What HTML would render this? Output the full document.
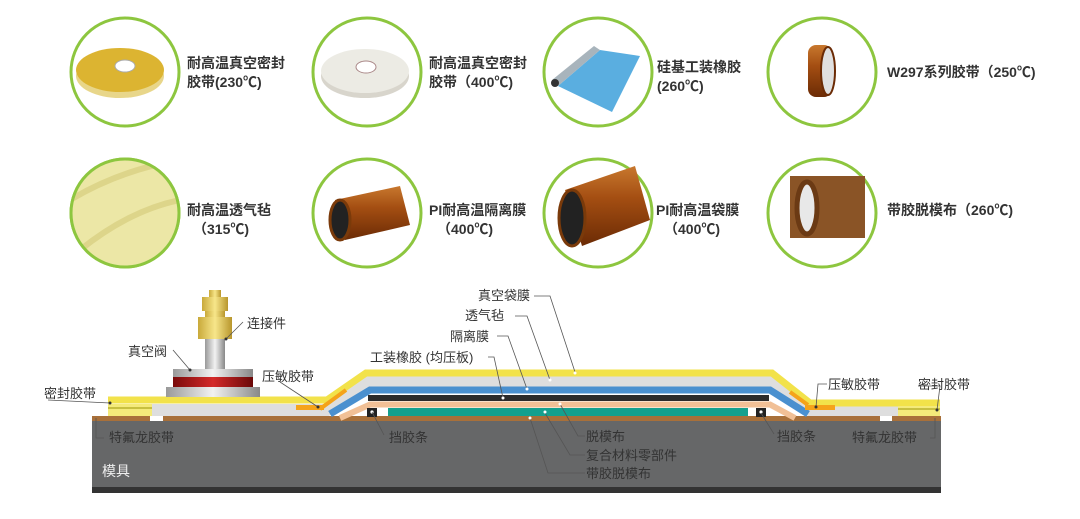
<!DOCTYPE html>
<html><head><meta charset="utf-8"><style>
html,body{margin:0;padding:0;background:#fff;}
svg{display:block}
.t{font-family:"Liberation Sans","Noto Sans CJK SC",sans-serif;font-weight:bold;font-size:14px;fill:#333}
.l{font-family:"Liberation Sans","Noto Sans CJK SC",sans-serif;font-size:13px;fill:#333}
.ld{fill:none;stroke:#555;stroke-width:0.8}
</style></head><body>
<svg width="1080" height="519" viewBox="0 0 1080 519" xmlns="http://www.w3.org/2000/svg">
<defs>
<clipPath id="c5"><circle cx="125" cy="213" r="53"/></clipPath>
<linearGradient id="cu" x1="0" y1="0" x2="0" y2="1"><stop offset="0" stop-color="#c8782e"/><stop offset=".4" stop-color="#a44e12"/><stop offset="1" stop-color="#6b2b05"/></linearGradient>
<linearGradient id="sil" x1="0" y1="0" x2="1" y2="0"><stop offset="0" stop-color="#999"/><stop offset=".5" stop-color="#f2f2f2"/><stop offset="1" stop-color="#888"/></linearGradient>
<linearGradient id="gold" x1="0" y1="0" x2="1" y2="0"><stop offset="0" stop-color="#c9a93a"/><stop offset=".5" stop-color="#f7e68a"/><stop offset="1" stop-color="#b8962c"/></linearGradient>
<linearGradient id="red" x1="0" y1="0" x2="1" y2="0"><stop offset="0" stop-color="#7a0a0a"/><stop offset=".5" stop-color="#d42a2a"/><stop offset="1" stop-color="#6a0808"/></linearGradient>
</defs>

<g fill="#fff" stroke="#8dc63f" stroke-width="3">
<circle cx="125" cy="72" r="54"/><circle cx="367" cy="72" r="54"/><circle cx="598" cy="72" r="54"/><circle cx="822" cy="72" r="54"/>
<circle cx="125" cy="213" r="54"/><circle cx="367" cy="213" r="54"/><circle cx="598" cy="213" r="54"/><circle cx="822" cy="213" r="54"/>
</g>
<ellipse cx="120" cy="76" rx="44" ry="22" fill="#e8d68a"/>
<ellipse cx="120" cy="70" rx="44" ry="22" fill="#dcb431"/>
<ellipse cx="125" cy="66" rx="10" ry="6" fill="#fff" stroke="#aaa"/>
<ellipse cx="365" cy="76" rx="44" ry="22" fill="#d8d5cc"/>
<ellipse cx="365" cy="71" rx="44" ry="22" fill="#ecebe4"/>
<ellipse cx="366" cy="67" rx="10" ry="6" fill="#fff" stroke="#a88"/>
<polygon points="558,86 600,50 640,56 612,112" fill="#5aaee0"/>
<polygon points="552,80 594,46 600,50 558,86" fill="#a8b4bc"/>
<ellipse cx="555" cy="83" rx="4" ry="4" fill="#333"/>
<rect x="808" y="45" width="24" height="52" rx="8" fill="url(#cu)"/>
<ellipse cx="828" cy="71" rx="7" ry="24" fill="#e0e0e0" stroke="#6b2b05" stroke-width="2"/>
<g clip-path="url(#c5)"><rect x="70" y="158" width="110" height="110" fill="#ece7a6"/><path d="M70,200 Q120,170 180,160 M80,250 Q130,210 180,200" stroke="#ddd58a" stroke-width="6" fill="none"/></g>
<circle cx="125" cy="213" r="54" fill="none" stroke="#8dc63f" stroke-width="3"/>
<polygon points="335,200 400,186 410,225 345,240" fill="url(#cu)"/>
<ellipse cx="340" cy="220" rx="10" ry="20" fill="#222" stroke="#7a3a0a" stroke-width="3"/>
<polygon points="565,190 635,166 650,220 582,246" fill="url(#cu)"/>
<ellipse cx="572" cy="218" rx="13" ry="28" fill="#222" stroke="#7a3a0a" stroke-width="3"/>
<rect x="790" y="176" width="75" height="62" fill="#8a5426"/>
<ellipse cx="807" cy="208" rx="10" ry="26" fill="#e8e8e8" stroke="#6b3a14" stroke-width="5"/>

<g class="t">
<text x="187" y="68">耐高温真空密封</text><text x="187" y="87">胶带(230℃)</text>
<text x="429" y="68">耐高温真空密封</text><text x="429" y="87">胶带（400℃)</text>
<text x="657" y="72">硅基工装橡胶</text><text x="657" y="91">(260℃)</text>
<text x="887" y="77">W297系列胶带（250℃)</text>
<text x="187" y="215">耐高温透气毡</text><text x="193" y="234">（315℃)</text>
<text x="429" y="215">PI耐高温隔离膜</text><text x="437" y="234">（400℃)</text>
<text x="656" y="215">PI耐高温袋膜</text><text x="664" y="234">（400℃)</text>
<text x="887" y="215">带胶脱模布（260℃)</text>
</g>

<rect x="92" y="416" width="849" height="6" fill="#a8703a"/>
<rect x="92" y="421" width="849" height="67" fill="#666768"/>
<rect x="92" y="487" width="849" height="6" fill="#333"/>
<rect x="150" y="413" width="13" height="8" fill="#fff"/>
<rect x="880" y="413" width="12" height="8" fill="#fff"/>

<polyline points="150,410 327,410 366,382 772,382 810,410 898,410" fill="none" stroke="#dedede" stroke-width="12"/>
<polyline points="330,414 370,390 770,390 808,414" fill="none" stroke="#4a90cf" stroke-width="7" stroke-linejoin="miter"/>
<rect x="368" y="395" width="401" height="6" fill="#2b2b2b"/>
<polyline points="340,418 370,404.5 770,404.5 795,418" fill="none" stroke="#f1c096" stroke-width="6"/>
<rect x="388" y="408" width="360" height="8" fill="#14a08e"/>
<rect x="367" y="408" width="10" height="9" fill="#222"/><circle cx="372" cy="412" r="1.6" fill="#fff"/>
<rect x="756" y="408" width="10" height="9" fill="#222"/><circle cx="761" cy="412" r="1.6" fill="#fff"/>
<polyline points="108,400 327,400 366,373 772,373 810,403 940,403" fill="none" stroke="#f2e24a" stroke-width="7"/>
<rect x="108" y="404" width="44" height="12" fill="#f4ea7a"/><rect x="108" y="407" width="44" height="2" fill="#c8c040"/>
<rect x="898" y="406" width="42" height="10" fill="#f4ea7a"/><rect x="898" y="408" width="42" height="2" fill="#c8c040"/>
<rect x="296" y="405" width="28" height="5" fill="#f5a31a"/>
<polyline points="320,409 346,390" stroke="#f5a31a" stroke-width="4" fill="none"/>
<rect x="805" y="405" width="30" height="5" fill="#f5a31a"/>
<polyline points="790,392 808,405" stroke="#f5a31a" stroke-width="4" fill="none"/>

<rect x="209" y="290" width="12" height="8" fill="url(#gold)"/>
<rect x="202" y="297" width="26" height="14" fill="url(#gold)"/>
<rect x="205" y="311" width="20" height="6" fill="url(#gold)"/>
<rect x="198" y="317" width="34" height="22" fill="url(#gold)"/>
<rect x="205" y="339" width="20" height="30" fill="url(#sil)"/>
<rect x="173" y="369" width="80" height="10" fill="url(#sil)"/>
<rect x="173" y="377" width="80" height="11" fill="url(#red)"/>
<rect x="166" y="387" width="94" height="10" fill="url(#sil)"/>

<g class="ld">
<path d="M226,339 L243,322"/><path d="M173,350 L190,370"/>
<path d="M110,403 L48,400"/><path d="M280,382 L318,407"/>
<path d="M96,418 L96,438 L104,438"/><path d="M372,412 L384,435"/>
<path d="M534,296 L550,296 L575,372"/><path d="M515,316 L527,316 L550,380"/>
<path d="M497,336 L508,336 L527,389"/><path d="M488,357 L494,357 L503,398"/>
<path d="M560,404 L578,436 L585,436"/><path d="M545,413 L570,455 L585,455"/>
<path d="M530,418 L548,473 L585,473"/>
<path d="M761,413 L774,434"/><path d="M827,384 L818,384 L816,407"/>
<path d="M918,386 L940,386 L937,410"/><path d="M935,418 L935,438 L930,438"/>
</g>
<g fill="#fff"><circle cx="575" cy="373" r="1.5"/><circle cx="550" cy="380" r="1.5"/><circle cx="527" cy="389" r="1.5"/><circle cx="503" cy="398" r="1.5"/><circle cx="560" cy="404" r="1.5"/><circle cx="545" cy="412" r="1.5"/><circle cx="530" cy="418" r="1.5"/></g>
<g fill="#333"><circle cx="226" cy="339" r="1.5"/><circle cx="190" cy="370" r="1.5"/><circle cx="110" cy="403" r="1.5"/><circle cx="318" cy="407" r="1.5"/><circle cx="816" cy="407" r="1.5"/><circle cx="937" cy="410" r="1.5"/></g>

<g class="l">
<text x="478" y="300">真空袋膜</text>
<text x="465" y="320">透气毡</text>
<text x="450" y="341">隔离膜</text>
<text x="370" y="362">工装橡胶 (均压板)</text>
<text x="247" y="328">连接件</text>
<text x="128" y="356">真空阀</text>
<text x="262" y="381">压敏胶带</text>
<text x="44" y="398">密封胶带</text>
<text x="109" y="442">特氟龙胶带</text>
<text x="389" y="442">挡胶条</text>
<text x="586" y="441">脱模布</text>
<text x="586" y="460">复合材料零部件</text>
<text x="586" y="478">带胶脱模布</text>
<text x="777" y="441">挡胶条</text>
<text x="828" y="389">压敏胶带</text>
<text x="918" y="389">密封胶带</text>
<text x="852" y="442">特氟龙胶带</text>
<text x="102" y="476" style="fill:#eee;font-size:14px">模具</text>
</g>
</svg>
</body></html>
